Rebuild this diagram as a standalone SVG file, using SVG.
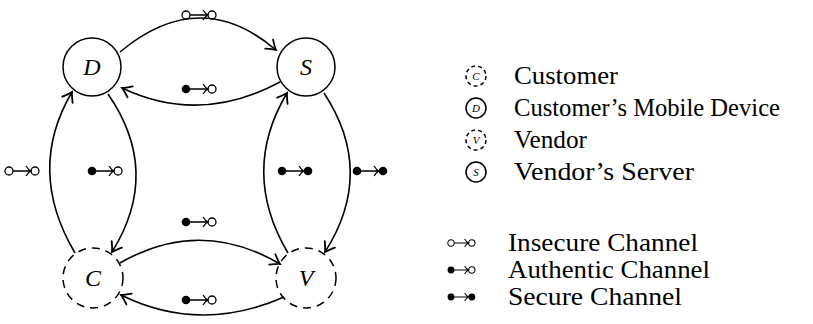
<svg xmlns="http://www.w3.org/2000/svg" xmlns:xlink="http://www.w3.org/1999/xlink" width="813" height="324" viewBox="0 0 813 324">
  <style>
    .node { fill: none; stroke: #000; stroke-width: 1.5; }
    .dashed { stroke-dasharray: 8 6; }
    .lab { font-family: "Liberation Serif", "DejaVu Serif", serif; font-style: italic; font-size: 24px; text-anchor: middle; }
    .leg { font-family: "Liberation Serif", "DejaVu Serif", serif; font-size: 24.5px; }
    .small { font-family: "Liberation Serif", "DejaVu Serif", serif; font-style: italic; font-size: 11px; text-anchor: middle; }
    .edge { fill: none; stroke: #000; stroke-width: 1.6; marker-end: url(#tip); }
    .sym { fill: none; stroke: #000; stroke-width: 1.3; }
  </style>
  <defs>
    <!-- curved "to" arrow tip -->
    <marker id="tip" markerUnits="userSpaceOnUse" markerWidth="16" markerHeight="16" viewBox="-12 -8 16 16" refX="0" refY="0" orient="auto">
      <path d="M -9,-6 Q -3,-1.5 0,0 Q -3,1.5 -9,6" fill="none" stroke="#000" stroke-width="1.8" stroke-linecap="round"/>
    </marker>
    <!-- channel glyphs: origin at the centre of the left dot -->
    <g id="ins">
      <circle cx="0" cy="0" r="4" class="sym" fill="#fff"/>
      <path d="M 4,0 H 21 M 17,-5 Q 19.5,-1 22,0 Q 19.5,1 17,5" class="sym"/>
      <circle cx="26" cy="0" r="4" class="sym"/>
    </g>
    <g id="aut">
      <circle cx="0" cy="0" r="4.3" fill="#000"/>
      <path d="M 4,0 H 21 M 17,-5 Q 19.5,-1 22,0 Q 19.5,1 17,5" class="sym"/>
      <circle cx="26" cy="0" r="4" class="sym"/>
    </g>
    <g id="sec">
      <circle cx="0" cy="0" r="4.3" fill="#000"/>
      <path d="M 4,0 H 21 M 17,-5 Q 19.5,-1 22,0 Q 19.5,1 17,5" class="sym"/>
      <circle cx="26" cy="0" r="4.3" fill="#000"/>
    </g>
  </defs>

  <!-- parties -->
  <g id="node-D"><circle cx="92" cy="67" r="29" class="node"/><text x="92" y="75" class="lab">D</text></g>
  <g id="node-S"><circle cx="306" cy="67" r="29" class="node"/><text x="306" y="75" class="lab">S</text></g>
  <g id="node-C"><circle cx="93" cy="278" r="30" class="node dashed"/><text x="93" y="286" class="lab">C</text></g>
  <g id="node-V"><circle cx="306" cy="278" r="30" class="node dashed"/><text x="306" y="286" class="lab">V</text></g>

  <!-- channels between parties -->
  <g id="connectors">
    <path d="M 120,52 Q 200,-15 276,50" class="edge"/>
    <path d="M 280,82 Q 200,125 122,88" class="edge"/>
    <path d="M 75,253 Q 26,170 72,92" class="edge"/>
    <path d="M 108,94 Q 162,172 112,252" class="edge"/>
    <path d="M 288,253 Q 240,172 287,93" class="edge"/>
    <path d="M 324,93 Q 376,172 325,252" class="edge"/>
    <path d="M 120,263 Q 200,217 280,264" class="edge"/>
    <path d="M 284,297 Q 200,334 121,295" class="edge"/>

    <use xlink:href="#ins" x="186" y="15"/>
    <use xlink:href="#aut" x="186" y="89"/>
    <use xlink:href="#ins" x="9" y="171"/>
    <use xlink:href="#aut" x="92" y="171"/>
    <use xlink:href="#sec" x="282" y="171"/>
    <use xlink:href="#sec" x="357" y="171"/>
    <use xlink:href="#aut" x="186" y="222"/>
    <use xlink:href="#aut" x="186" y="300"/>
  </g>

  <!-- legend: parties -->
  <g id="legend-parties">
    <circle cx="476" cy="76" r="10" class="node" stroke-width="1" stroke-dasharray="4 3"/>
    <text x="476" y="80" class="small">C</text>
    <text x="514" y="84" class="leg" textLength="104" lengthAdjust="spacingAndGlyphs">Customer</text>
    <circle cx="476" cy="108" r="10" class="node" stroke-width="1"/>
    <text x="476" y="112" class="small">D</text>
    <text x="514" y="116" class="leg" textLength="266" lengthAdjust="spacingAndGlyphs">Customer’s Mobile Device</text>
    <circle cx="476" cy="140" r="10" class="node" stroke-width="1" stroke-dasharray="4 3"/>
    <text x="476" y="144" class="small">V</text>
    <text x="514" y="148" class="leg" textLength="73" lengthAdjust="spacingAndGlyphs">Vendor</text>
    <circle cx="476" cy="172" r="10" class="node" stroke-width="1"/>
    <text x="476" y="176" class="small">S</text>
    <text x="514" y="180" class="leg" textLength="180" lengthAdjust="spacingAndGlyphs">Vendor’s Server</text>
  </g>

  <!-- legend: channel kinds -->
  <g id="legend-channels">
    <use xlink:href="#ins" transform="translate(451,243) scale(0.8)"/>
    <text x="508" y="251" class="leg" textLength="190" lengthAdjust="spacingAndGlyphs">Insecure Channel</text>
    <use xlink:href="#aut" transform="translate(451,270) scale(0.8)"/>
    <text x="508" y="278" class="leg" textLength="202" lengthAdjust="spacingAndGlyphs">Authentic Channel</text>
    <use xlink:href="#sec" transform="translate(451,297) scale(0.8)"/>
    <text x="508" y="305" class="leg" textLength="174" lengthAdjust="spacingAndGlyphs">Secure Channel</text>
  </g>
</svg>
